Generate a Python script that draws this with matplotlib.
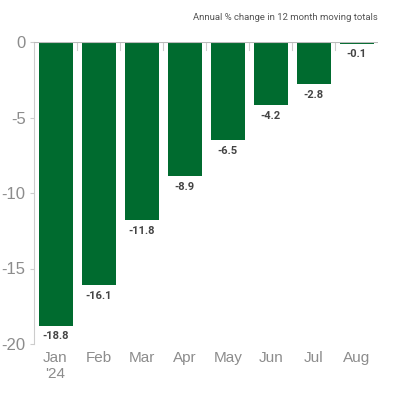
import matplotlib
matplotlib.use('Agg')
import matplotlib.pyplot as plt

# datos
months = ['Jan\n\'24', 'Feb', 'Mar', 'Apr', 'May', 'Jun', 'Jul', 'Aug']
values = [-18.8, -16.1, -11.8, -8.9, -6.5, -4.2, -2.8, -0.1]
yticks = [0, -5, -10, -15, -20]
title = 'Annual % change in 12 month moving totals'

green = '#006b2f'
grey = '#8c8c8c'
label_font = ['Roboto', 'DejaVu Sans']
tick_font = ['Liberation Sans', 'DejaVu Sans']

fig = plt.figure(figsize=(4, 4), dpi=100)
ax = fig.add_axes([0.085, 0.14, 0.861, 0.755])

x = range(len(values))
ax.bar(x, values, width=0.79, color=green, zorder=2)

# etiquetas de valores bajo cada barra
for i, v in zip(x, values):
    ax.annotate(f'{v:.1f}', (i, v), xytext=(0, -4), textcoords='offset points',
                ha='center', va='top', fontsize=8, fontweight='bold',
                color='#444444', family=label_font)

ax.set_xlim(-0.5, len(values) - 0.5)
ax.set_ylim(-20, 0)

# ejes
for s in ['top', 'right', 'bottom']:
    ax.spines[s].set_visible(False)
ax.spines['left'].set_color('#cccccc')
ax.spines['left'].set_linewidth(0.8)
ax.axhline(0, color='#bbbbbb', linewidth=0.8, zorder=3)

# marcas entre categorias en la linea cero
for b in range(1, len(values)):
    ax.plot([b - 0.5, b - 0.5], [0, -0.5], color='#cccccc', linewidth=0.8, zorder=1)

ax.set_yticks(yticks)
ax.set_yticklabels([str(t) for t in yticks], fontsize=12, color=grey, family=tick_font)
ax.tick_params(axis='y', length=3, color='#cccccc', pad=3)
ax.set_xticks(list(x))
ax.set_xticklabels(months, fontsize=11, color=grey, family=tick_font, va='top')
ax.tick_params(axis='x', length=0, pad=5)

fig.text(0.945, 0.955, title, ha='right', va='center', fontsize=6.8,
         color='#555555', family=label_font)

fig.savefig('out.png', dpi=100)
